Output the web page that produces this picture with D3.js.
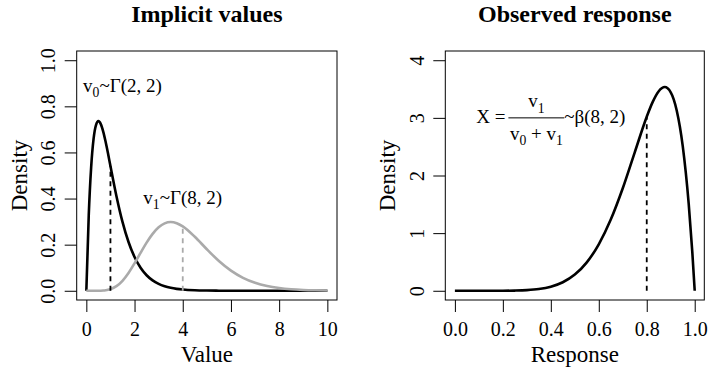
<!DOCTYPE html>
<html>
<head>
<meta charset="utf-8">
<script src="https://cdn.jsdelivr.net/npm/d3@7"></script>
<style>
  html, body { margin: 0; padding: 0; background: #fff; }
  svg { display: block; font-family: "Liberation Serif", "Times New Roman", serif; }
</style>
</head>
<body>
<svg id="chart" width="708" height="371"></svg>
<script>
// ---- Data -------------------------------------------------------------
// Implicit values: densities of v0 ~ Gamma(2, 2) and v1 ~ Gamma(8, 2)
const valueGrid = [0, 0.1, 0.2, 0.3, 0.4, 0.5, 0.6, 0.7, 0.8, 0.9, 1, 1.25, 1.5, 1.75, 2, 2.25, 2.5, 2.75, 3, 3.25, 3.5, 3.75, 4, 4.5, 5, 5.5, 6, 6.5, 7, 7.5, 8, 8.5, 9, 9.5, 10];
const densityV0 = [0, 0.3275, 0.5363, 0.6586, 0.7189, 0.7358, 0.7229, 0.6905, 0.6461, 0.5951, 0.5413, 0.4104, 0.2987, 0.2114, 0.1465, 0.1000, 0.0674, 0.0450, 0.0297, 0.0195, 0.0128, 0.0083, 0.0054, 0.0022, 0.0009, 0.0004, 0.0001, 0.0001, 0, 0, 0, 0, 0, 0, 0];
const densityV1 = [0, 0, 0, 0, 0, 0.0001, 0.0004, 0.0010, 0.0022, 0.0040, 0.0069, 0.0199, 0.0432, 0.0771, 0.1191, 0.1647, 0.2089, 0.2469, 0.2754, 0.2925, 0.2980, 0.2930, 0.2792, 0.2342, 0.1802, 0.1292, 0.0874, 0.0563, 0.0348, 0.0207, 0.0120, 0.0067, 0.0037, 0.0020, 0.0010];

// Observed response: density of X ~ Beta(8, 2)
const responseGrid = [0, 0.1, 0.15, 0.2, 0.25, 0.3, 0.35, 0.4, 0.45, 0.5, 0.55, 0.6, 0.65, 0.7, 0.75, 0.8, 0.825, 0.85, 0.875, 0.9, 0.925, 0.95, 0.975, 0.99, 1];
const densityX = [0, 0, 0.0001, 0.0007, 0.0033, 0.0110, 0.0301, 0.0708, 0.1480, 0.2813, 0.4933, 0.8062, 1.2354, 1.7789, 2.4027, 3.0199, 3.2775, 3.4622, 3.5343, 3.4437, 3.1289, 2.5140, 1.5077, 0.6711, 0];

// Single draws marked with dashed drop lines: [value, density]
const drawV0 = [1, 0.5413];
const drawV1 = [4, 0.2792];
const drawX = [0.8, 3.0199];

// Axis ticks
const valueTicks = [0, 2, 4, 6, 8, 10];
const valueDensityTicks = [0, 0.2, 0.4, 0.6, 0.8, 1.0];
const responseTicks = [0, 0.2, 0.4, 0.6, 0.8, 1.0];
const responseDensityTicks = [0, 1, 2, 3, 4];

// ---- Drawing ----------------------------------------------------------
const svg = d3.select("#chart");
const GREY = "#aaaaaa";
const TICK_FS = 20, LAB_FS = 23, MAIN_FS = 24, NOTE_FS = 19;

function panel(opts) {
  const { box, xDomain, yDomain, xTicks, yTicks, xFmt, yFmt, title, xLabel } = opts;
  const x = d3.scaleLinear().domain(xDomain).range([box.x0, box.x1]);
  const y = d3.scaleLinear().domain(yDomain).range([box.y1, box.y0]);
  const g = svg.append("g");

  // x axis
  const gx = g.append("g")
    .attr("transform", `translate(0,${box.y1})`)
    .call(d3.axisBottom(x).tickValues(xTicks).tickFormat(xFmt).tickSize(12).tickSizeOuter(0));
  gx.attr("font-family", null).attr("font-size", TICK_FS);
  gx.select(".domain").remove();
  gx.selectAll(".tick line").attr("stroke", "#000").attr("stroke-width", 1);
  gx.selectAll(".tick text").attr("fill", "#000").attr("y", 35.5).attr("dy", null);

  // y axis with labels turned parallel to the axis
  const gy = g.append("g")
    .attr("transform", `translate(${box.x0},0)`)
    .call(d3.axisLeft(y).tickValues(yTicks).tickFormat(yFmt).tickSize(12).tickSizeOuter(0));
  gy.attr("font-family", null).attr("font-size", TICK_FS);
  gy.select(".domain").remove();
  gy.selectAll(".tick line").attr("stroke", "#000").attr("stroke-width", 1);
  gy.selectAll(".tick text")
    .attr("fill", "#000").attr("x", null).attr("dy", null)
    .attr("text-anchor", "middle")
    .attr("transform", "translate(-21.5,0) rotate(-90)");

  // frame
  g.append("rect")
    .attr("x", box.x0).attr("y", box.y0)
    .attr("width", box.x1 - box.x0).attr("height", box.y1 - box.y0)
    .attr("fill", "none").attr("stroke", "#000").attr("stroke-width", 1);

  const cx = (box.x0 + box.x1) / 2, cy = (box.y0 + box.y1) / 2;
  g.append("text").attr("x", cx).attr("y", 21.5)
    .attr("text-anchor", "middle").attr("font-weight", "bold").attr("font-size", MAIN_FS)
    .text(title);
  g.append("text").attr("x", cx).attr("y", 362)
    .attr("text-anchor", "middle").attr("font-size", LAB_FS)
    .text(xLabel);
  g.append("text")
    .attr("transform", `translate(${box.x0 - 50},${cy}) rotate(-90)`)
    .attr("text-anchor", "middle").attr("font-size", LAB_FS)
    .text("Density");

  return { g, x, y };
}

function densityLine(g, x, y, xs, ys, color) {
  const line = d3.line().x(i => x(xs[i])).y(i => y(ys[i])).curve(d3.curveMonotoneX);
  g.append("path")
    .attr("d", line(d3.range(xs.length)))
    .attr("fill", "none").attr("stroke", color)
    .attr("stroke-width", 2.6).attr("stroke-linejoin", "round").attr("stroke-linecap", "butt");
}

function dropLine(g, x, y, pt, color) {
  g.append("line")
    .attr("x1", x(pt[0])).attr("x2", x(pt[0]))
    .attr("y1", y(0)).attr("y2", y(pt[1]))
    .attr("stroke", color).attr("stroke-width", 1.8)
    .attr("stroke-dasharray", "5,4.5");
}

// text with a subscript: parts = [[text, isSub], ...]
function scriptText(g, px, py, parts, fs, anchor) {
  const t = g.append("text").attr("x", px).attr("y", py)
    .attr("font-size", fs).attr("text-anchor", anchor || "middle");
  let shift = 0;
  parts.forEach(([s, sub]) => {
    const want = sub ? fs * 0.28 : 0;
    t.append("tspan").attr("dy", want - shift)
      .attr("font-size", sub ? fs * 0.72 : fs).text(s);
    shift = want;
  });
  return t;
}

// ---- Left panel: implicit values ----
const L = panel({
  box: { x0: 76.7, x1: 337, y0: 51, y1: 300 },
  xDomain: [-0.4, 10.4], yDomain: [-0.04, 1.04],
  xTicks: valueTicks, yTicks: valueDensityTicks,
  xFmt: d3.format("d"), yFmt: d3.format(".1f"),
  title: "Implicit values", xLabel: "Value"
});
densityLine(L.g, L.x, L.y, valueGrid, densityV0, "#000");
densityLine(L.g, L.x, L.y, valueGrid, densityV1, GREY);
dropLine(L.g, L.x, L.y, drawV0, "#000");
dropLine(L.g, L.x, L.y, drawV1, GREY);
scriptText(L.g, L.x(1.5), L.y(0.885) + 5, [["v", false], ["0", true], ["~Γ(2, 2)", false]], NOTE_FS);
scriptText(L.g, L.x(4), L.y(0.4) + 5, [["v", false], ["1", true], ["~Γ(8, 2)", false]], NOTE_FS);

// ---- Right panel: observed response ----
const R = panel({
  box: { x0: 445.3, x1: 704.3, y0: 51, y1: 300 },
  xDomain: [-0.04, 1.04], yDomain: [-0.16, 4.16],
  xTicks: responseTicks, yTicks: responseDensityTicks,
  xFmt: d3.format(".1f"), yFmt: d3.format("d"),
  title: "Observed response", xLabel: "Response"
});
densityLine(R.g, R.x, R.y, responseGrid, densityX, "#000");
dropLine(R.g, R.x, R.y, drawX, "#000");

// X = v1 / (v0 + v1) ~ Beta(8, 2), centred at (0.4, 3)
(function () {
  const g = R.g.append("g");
  const barY = R.y(3);
  const gap = 3;
  const lead = g.append("text").attr("font-size", NOTE_FS).attr("y", barY + 5.5).text("X =");
  const num = scriptText(g, 0, barY - 10.5, [["v", false], ["1", true]], NOTE_FS, "middle");
  const den = scriptText(g, 0, barY + 22, [["v", false], ["0", true], [" + v", false], ["1", true]], NOTE_FS, "middle");
  const tail = g.append("text").attr("font-size", NOTE_FS).attr("y", barY + 5.5).text("~β(8, 2)");
  const wLead = lead.node().getComputedTextLength() + gap;
  const wBar = Math.max(num.node().getComputedTextLength(), den.node().getComputedTextLength()) + 3;
  const wTail = tail.node().getComputedTextLength();
  const x0 = R.x(0.4) - (wLead + wBar + wTail) / 2;
  lead.attr("x", x0);
  num.attr("x", x0 + wLead + wBar / 2);
  den.attr("x", x0 + wLead + wBar / 2);
  g.append("line")
    .attr("x1", x0 + wLead).attr("x2", x0 + wLead + wBar)
    .attr("y1", barY).attr("y2", barY)
    .attr("stroke", "#000").attr("stroke-width", 1);
  tail.attr("x", x0 + wLead + wBar);
})();
</script>
</body>
</html>
